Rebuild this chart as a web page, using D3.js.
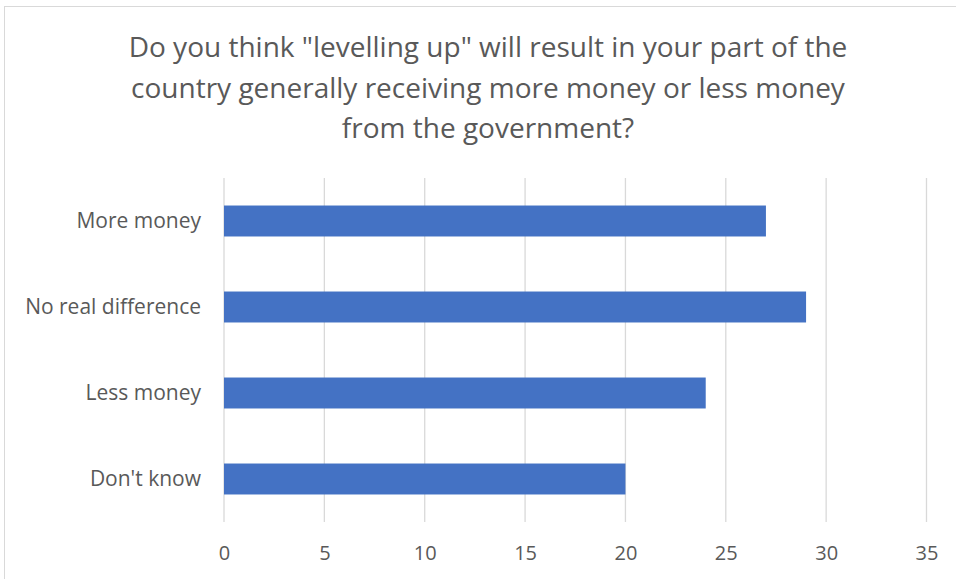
<!DOCTYPE html>
<html><head><meta charset="utf-8">
<script src="https://cdn.jsdelivr.net/npm/d3@7"></script>
<style>body{margin:0;background:#fff}svg{display:block}</style>
</head><body>
<script>
const categories = ["More money", "No real difference", "Less money", "Don't know"];
const values = [27, 29, 24, 20];
const tickValues = [0, 5, 10, 15, 20, 25, 30, 35];
const titleLines = ["Do you think \"levelling up\" will result in your part of the", "country generally receiving more money or less money", "from the government?"];

const W = 956, H = 579;
const svg = d3.select("body").append("svg").attr("width", W).attr("height", H);
svg.append("rect").attr("x", 4.5).attr("y", 6.5).attr("width", W + 10).attr("height", H + 10)
  .attr("fill", "#fff").attr("stroke", "#d9d9d9").attr("stroke-width", 1);

const font = "'Open Sans', sans-serif";
const x = d3.scaleLinear().domain([0, 35]).range([224, 926.5]);
const y = d3.scaleBand().domain(categories).range([178, 522]).paddingInner(0.64).paddingOuter(0.32);

svg.append("g").selectAll("text").data(titleLines).join("text")
  .attr("x", 488).attr("y", (d, i) => 57 + i * 40.5)
  .attr("text-anchor", "middle").attr("font-family", font).attr("font-size", 28)
  .attr("fill", "#595959").text(d => d);

const grid = svg.append("g");
grid.selectAll("line").data(tickValues).join("line")
  .attr("x1", d => x(d)).attr("x2", d => x(d)).attr("y1", 178).attr("y2", 522)
  .attr("stroke", "#d9d9d9").attr("stroke-width", 1.3);

svg.append("g").selectAll("rect").data(values).join("rect")
  .attr("x", x(0)).attr("y", (d, i) => y(categories[i]))
  .attr("width", d => x(d) - x(0)).attr("height", y.bandwidth())
  .attr("fill", "#4472c4");

const xAxis = d3.axisBottom(x).tickValues(tickValues).tickSize(0).tickPadding(0);
const gx = svg.append("g").attr("transform", "translate(0,560)").call(xAxis);
gx.select(".domain").remove();
gx.selectAll("text").attr("font-family", font).attr("font-size", 20).attr("fill", "#595959").attr("dy", 0);

const yAxis = d3.axisLeft(y).tickSize(0).tickPadding(23);
const gy = svg.append("g").attr("transform", "translate(224,0)").call(yAxis);
gy.select(".domain").remove();
gy.selectAll("text").attr("font-family", font).attr("font-size", 21).attr("fill", "#595959");
</script>
</body></html>
